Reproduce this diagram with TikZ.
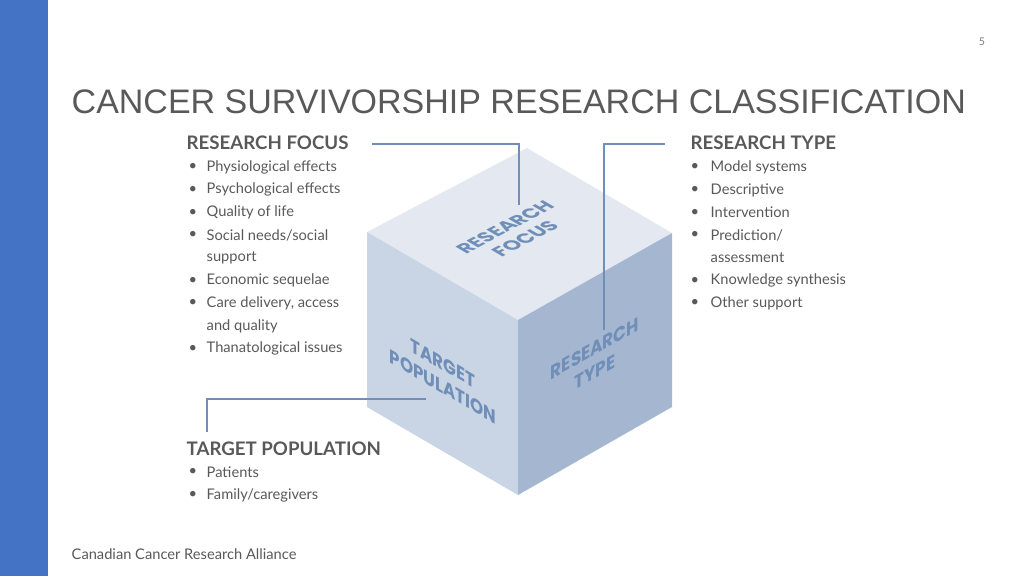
\documentclass[tikz,border=0pt]{standalone}
\usepackage{fontspec}
\setmainfont{Lato}
\newfontfamily\titlefont{Liberation Sans}
\newfontfamily\facefont{Poppins}
\definecolor{barblue}{HTML}{4472C4}
\definecolor{txtgray}{HTML}{595959}
\definecolor{linkblue}{HTML}{6F8FB8}
\definecolor{topface}{HTML}{E4E9F1}
\definecolor{leftface}{HTML}{C9D4E4}
\definecolor{rightface}{HTML}{A5B6D1}
\tikzset{
  head/.style={anchor=west, text=txtgray, font=\fontsize{14}{16}\selectfont\bfseries},
  item/.style={anchor=west, text=txtgray, font=\fontsize{11}{12}\selectfont},
  link/.style={draw=linkblue, line width=2.2pt},
  facetext/.style={transform shape, text=linkblue, align=center,
    font=\fontsize{14.5}{17.5}\selectfont\facefont\bfseries}
}
\begin{document}
\begin{tikzpicture}[x=0.75pt,y=-0.75pt]
\useasboundingbox (0,0) rectangle (1024,576);
\fill[barblue] (0,0) rectangle (48,576);
\node[text=gray, font=\fontsize{8}{9}\selectfont] (pagenum) at (982,42) {5};
\node[anchor=west, text=txtgray, font=\fontsize{25.5}{28}\selectfont\titlefont] (title) at (67,102) {CANCER SURVIVORSHIP RESEARCH CLASSIFICATION};
\node[item] (footer) at (67,554) {Canadian Cancer Research Alliance};

% cube
\coordinate (ctop) at (527,148);
\coordinate (cleft) at (367,232);
\coordinate (cmid) at (518,320);
\coordinate (cright) at (672,233);
\coordinate (cbl) at (367,407);
\coordinate (cbot) at (518,495);
\coordinate (cbr) at (672,407);
\fill[topface] (ctop) -- (cright) -- (cmid) -- (cleft) -- cycle;
\fill[leftface] (cleft) -- (cmid) -- (cbot) -- (cbl) -- cycle;
\fill[rightface] (cmid) -- (cright) -- (cbr) -- (cbot) -- cycle;

\begin{scope}[shift={(515,233)}, cm={0.885,0.465,-0.863,0.506,(0,0)}]
\node[facetext] (focusface) at (0,0) {RESEARCH\\FOCUS};
\end{scope}
\begin{scope}[shift={(443,375)}, cm={0.864,-0.504,0,1,(0,0)}]
\node[facetext] (popface) at (0,0) {TARGET\\POPULATION};
\end{scope}
\begin{scope}[shift={(595,360)}, cm={0.871,0.492,0,1,(0,0)}]
\node[facetext] (typeface) at (0,0) {RESEARCH\\TYPE};
\end{scope}

% research focus
\node[head] (focus) at (182,143) {RESEARCH FOCUS};
\foreach \t [count=\i] in {Physiological effects, Psychological effects, Quality of life,
  Social needs/social, support, Economic sequelae, {Care delivery, access}, and quality, Thanatological issues}{
  \node[item] at (202,144.5+22.7*\i) {\t};
}
\foreach \i in {1,2,3,4,6,7,9}{
  \node[item] at (184,144.5+22.7*\i) {•};
}

% research type
\node[head] (type) at (686,143) {RESEARCH TYPE};
\foreach \t [count=\i] in {Model systems, Descriptive, Intervention, Prediction/, assessment, Knowledge synthesis, Other support}{
  \node[item] at (706,144.5+22.7*\i) {\t};
}
\foreach \i in {1,2,3,4,6,7}{
  \node[item] at (686,144.5+22.7*\i) {•};
}

% target population
\node[head] (pop) at (182,449) {TARGET POPULATION};
\node[item] at (202,472) {Patients};
\node[item] at (202,495) {Family/caregivers};
\node[item] at (184,472) {•};
\node[item] at (184,495) {•};

\coordinate (fend) at (519,205);
\coordinate (tend) at (604,330);
\coordinate (pend) at (426,399);
\draw[link] (372,144) -| (fend);
\draw[link] (665,144) -| (tend);
\draw[link] (pend) -| (207,432);
\end{tikzpicture}
\end{document}
